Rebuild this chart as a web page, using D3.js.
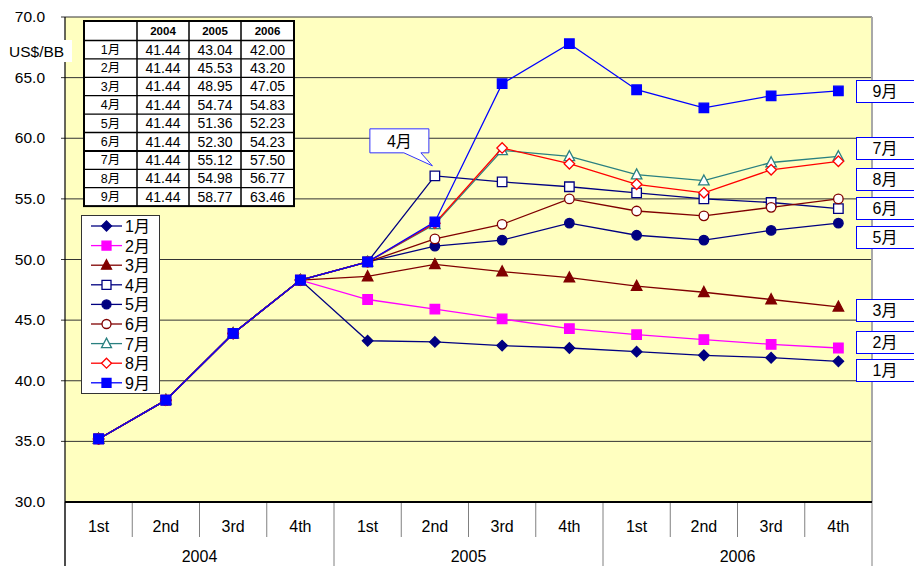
<!DOCTYPE html>
<html>
<head>
<meta charset="utf-8">
<script src="https://cdn.jsdelivr.net/npm/d3@7"></script>
<style>
body { margin: 0; background: #fff; }
svg { display: block; font-family: Arial, "Liberation Sans", "Noto Sans CJK JP", sans-serif; }
</style>
</head>
<body>
<div id="chart"></div>
<script>
// categories
var quarters = ['1st', '2nd', '3rd', '4th', '1st', '2nd', '3rd', '4th', '1st', '2nd', '3rd', '4th'];
var years = ['2004', '2005', '2006'];
var months = ['1月', '2月', '3月', '4月', '5月', '6月', '7月', '8月', '9月'];
var yTicks = [30, 35, 40, 45, 50, 55, 60, 65, 70];

// series values, one per quarter
var s1 = [35.2, 38.4, 43.9, 48.3, 43.3, 43.2, 42.9, 42.7, 42.4, 42.1, 41.9, 41.6];
var s2 = [35.2, 38.4, 43.9, 48.3, 46.7, 45.9, 45.1, 44.3, 43.8, 43.4, 43.0, 42.7];
var s3 = [35.2, 38.4, 43.9, 48.3, 48.6, 49.6, 49.0, 48.5, 47.8, 47.3, 46.7, 46.1];
var s4 = [35.2, 38.4, 43.9, 48.3, 49.8, 56.9, 56.4, 56.0, 55.5, 55.0, 54.7, 54.2];
var s5 = [35.2, 38.4, 43.9, 48.3, 49.8, 51.1, 51.6, 53.0, 52.0, 51.6, 52.4, 53.0];
var s6 = [35.2, 38.4, 43.9, 48.3, 49.8, 51.7, 52.9, 55.0, 54.0, 53.6, 54.3, 55.0];
var s7 = [35.2, 38.4, 43.9, 48.3, 49.8, 52.9, 59.0, 58.5, 57.0, 56.5, 58.0, 58.5];
var s8 = [35.2, 38.4, 43.9, 48.3, 49.8, 53.0, 59.2, 57.9, 56.2, 55.5, 57.4, 58.1];
var s9 = [35.2, 38.4, 43.9, 48.3, 49.8, 53.1, 64.5, 67.8, 64.0, 62.5, 63.5, 63.9];
var seriesValues = [s1, s2, s3, s4, s5, s6, s7, s8, s9];

// table values
var t2004 = ['41.44', '41.44', '41.44', '41.44', '41.44', '41.44', '41.44', '41.44', '41.44'];
var t2005 = ['43.04', '45.53', '48.95', '54.74', '51.36', '52.30', '55.12', '54.98', '58.77'];
var t2006 = ['42.00', '43.20', '47.05', '54.83', '52.23', '54.23', '57.50', '56.77', '63.46'];

// marker styles
var styles = [
    {shape: 'diamond', color: '#000080', fill: '#000080'},
    {shape: 'square', color: '#ff00ff', fill: '#ff00ff'},
    {shape: 'triangle', color: '#800000', fill: '#800000'},
    {shape: 'square', color: '#000080', fill: '#ffffff'},
    {shape: 'circle', color: '#000080', fill: '#000080'},
    {shape: 'circle', color: '#800000', fill: '#ffffff'},
    {shape: 'triangle', color: '#2a8080', fill: '#ffffff'},
    {shape: 'diamond', color: '#ff0000', fill: '#ffffff'},
    {shape: 'square', color: '#0000ff', fill: '#0000ff'}
];

// right-hand label boxes (top edge in px), index into months
var rightLabels = [
    {i: 8, top: 80}, {i: 6, top: 137}, {i: 7, top: 168}, {i: 5, top: 197},
    {i: 4, top: 226}, {i: 2, top: 299}, {i: 1, top: 331}, {i: 0, top: 359}
];

var W = 914, H = 566;
var m = {l: 65, r: 872, t: 17, b: 502};

var svg = d3.select("#chart").append("svg")
    .attr("width", W)
    .attr("height", H);

var x = d3.scaleBand()
    .domain(d3.range(12))
    .range([m.l, m.r]);

var y = d3.scaleLinear()
    .domain([30, 70])
    .range([m.b, m.t]);

function cx(i) { return x(i) + x.bandwidth() / 2; }

// plot background
svg.append("rect")
    .attr("x", m.l).attr("y", m.t)
    .attr("width", m.r - m.l).attr("height", m.b - m.t)
    .attr("fill", "#ffffc0");

// gridlines
svg.append("g").selectAll("line")
    .data(yTicks.filter(d => d > 30))
    .enter().append("line")
    .attr("x1", m.l - 4).attr("x2", m.r)
    .attr("y1", d => y(d)).attr("y2", d => y(d))
    .attr("stroke", "#333")
    .attr("stroke-width", 1);

// right border
svg.append("line")
    .attr("x1", m.r).attr("x2", m.r)
    .attr("y1", m.t).attr("y2", m.b)
    .attr("stroke", "#a8a8a8").attr("stroke-width", 2);

// y tick labels
svg.append("g").selectAll("text")
    .data(yTicks)
    .enter().append("text")
    .attr("x", 45)
    .attr("y", d => y(d) + 5)
    .attr("text-anchor", "end")
    .attr("font-size", "15.5px")
    .attr("fill", "#000")
    .text(d => d.toFixed(1));

// category axis
var axisG = svg.append("g");
d3.range(13).forEach(function(i) {
    var xx = i < 12 ? x(i) : m.r;
    var yearEdge = (i % 4 === 0);
    axisG.append("line")
        .attr("x1", xx).attr("x2", xx)
        .attr("y1", m.b).attr("y2", yearEdge ? H : 537)
        .attr("stroke", "#808080").attr("stroke-width", 1);
});
axisG.selectAll("text.q")
    .data(quarters)
    .enter().append("text")
    .attr("class", "q")
    .attr("x", (d, i) => cx(i))
    .attr("y", 532)
    .attr("text-anchor", "middle")
    .attr("font-size", "16px")
    .text(d => d);
axisG.selectAll("text.yr")
    .data(years)
    .enter().append("text")
    .attr("class", "yr")
    .attr("x", (d, i) => (x(i * 4) + (i < 2 ? x(i * 4 + 4) : m.r)) / 2)
    .attr("y", 562)
    .attr("text-anchor", "middle")
    .attr("font-size", "16px")
    .text(d => d);

// axis lines
svg.append("line")
    .attr("x1", m.l).attr("x2", m.r)
    .attr("y1", m.b).attr("y2", m.b)
    .attr("stroke", "#000").attr("stroke-width", 2);
svg.append("line")
    .attr("x1", m.l).attr("x2", m.l)
    .attr("y1", m.t).attr("y2", H)
    .attr("stroke", "#000").attr("stroke-width", 1.2);

// unit label
svg.append("rect")
    .attr("x", 0).attr("y", 40).attr("width", 72).attr("height", 22)
    .attr("fill", "#fff");
svg.append("text")
    .attr("x", 9).attr("y", 57)
    .attr("font-size", "15.5px")
    .text("US$/BB");

function marker(g, st, px, py, s) {
    var h = s / 2;
    if (st.shape === 'circle') {
        g.append("circle").attr("cx", px).attr("cy", py).attr("r", h)
            .attr("fill", st.fill).attr("stroke", st.color).attr("stroke-width", 1.3);
    } else {
        var p;
        if (st.shape === 'square') {
            p = [[px - h, py - h], [px + h, py - h], [px + h, py + h], [px - h, py + h]];
        } else if (st.shape === 'diamond') {
            p = [[px, py - h - 0.5], [px + h + 0.5, py], [px, py + h + 0.5], [px - h - 0.5, py]];
        } else {
            p = [[px, py - h - 1], [px + h + 0.5, py + h - 0.5], [px - h - 0.5, py + h - 0.5]];
        }
        g.append("path").attr("d", "M" + p.join("L") + "Z")
            .attr("fill", st.fill).attr("stroke", st.color).attr("stroke-width", 1.3);
    }
}

// series
var line = d3.line()
    .x((d, i) => cx(i))
    .y(d => y(d));

seriesValues.forEach(function(vals, k) {
    var st = styles[k];
    var g = svg.append("g");
    g.append("path")
        .attr("d", line(vals))
        .attr("fill", "none")
        .attr("stroke", st.color)
        .attr("stroke-width", 1.3);
    vals.forEach(function(v, i) {
        marker(g, st, cx(i), y(v), 9.5);
    });
});

// right label boxes
rightLabels.forEach(function(d) {
    svg.append("rect")
        .attr("x", 856.5).attr("y", d.top + 0.5)
        .attr("width", 62).attr("height", 22)
        .attr("fill", "#fff").attr("stroke", "#0000ff").attr("stroke-width", 1);
    svg.append("text")
        .attr("x", 885).attr("y", d.top + 17)
        .attr("text-anchor", "middle")
        .attr("font-size", "16px")
        .text(months[d.i]);
});

// callout for 4月
var px4 = cx(5), py4 = y(s4[5]);
var bx1 = px4 - 65, bx2 = px4 - 6, by1 = py4 - 47, by2 = py4 - 23;
svg.append("path")
    .attr("d", "M" + bx1 + "," + by1 + "H" + bx2 + "V" + by2 + "H" + (bx2 - 8) +
        "L" + (px4 - 2.5) + "," + (py4 - 10) + "L" + (px4 - 31) + "," + by2 + "H" + bx1 + "Z")
    .attr("fill", "#fff").attr("stroke", "#3333ff").attr("stroke-width", 1);
svg.append("text")
    .attr("x", (bx1 + bx2) / 2).attr("y", by2 - 6)
    .attr("text-anchor", "middle")
    .attr("font-size", "16px")
    .text("4月");

// data table
var tb = {x: 84, y: 21, w: 210, hh: 19.5, rh: 18.4};
var colX = [84, 137, 189, 241, 294];
var tg = svg.append("g");
var tH = tb.hh + tb.rh * 9;
tg.append("rect")
    .attr("x", tb.x).attr("y", tb.y).attr("width", tb.w).attr("height", tH)
    .attr("fill", "#fff");
for (var r = 1; r <= 9; r++) {
    var ly = tb.y + tb.hh + tb.rh * (r - 1);
    tg.append("line")
        .attr("x1", tb.x).attr("x2", tb.x + tb.w)
        .attr("y1", ly).attr("y2", ly)
        .attr("stroke", "#000").attr("stroke-width", r === 7 ? 2 : 1.3);
}
colX.slice(1, 4).forEach(function(c) {
    tg.append("line")
        .attr("x1", c).attr("x2", c)
        .attr("y1", tb.y).attr("y2", tb.y + tH)
        .attr("stroke", "#000").attr("stroke-width", 1.5);
});
tg.append("rect")
    .attr("x", tb.x).attr("y", tb.y).attr("width", tb.w).attr("height", tH)
    .attr("fill", "none").attr("stroke", "#000").attr("stroke-width", 2);
years.forEach(function(yr, j) {
    tg.append("text")
        .attr("x", (colX[j + 1] + colX[j + 2]) / 2)
        .attr("y", tb.y + 14)
        .attr("text-anchor", "middle")
        .attr("font-size", "11.5px")
        .attr("font-weight", "bold")
        .text(yr);
});
var tcols = [t2004, t2005, t2006];
months.forEach(function(mo, r) {
    var ty = tb.y + tb.hh + tb.rh * r + 14;
    tg.append("text")
        .attr("x", (colX[0] + colX[1]) / 2).attr("y", ty - 0.5)
        .attr("text-anchor", "middle")
        .attr("font-size", "12.5px")
        .text(mo);
    tcols.forEach(function(col, j) {
        tg.append("text")
            .attr("x", (colX[j + 1] + colX[j + 2]) / 2).attr("y", ty)
            .attr("text-anchor", "middle")
            .attr("font-size", "14px")
            .text(col[r]);
    });
});

// legend
var lg = svg.append("g");
lg.append("rect")
    .attr("x", 81.5).attr("y", 215.5).attr("width", 78).attr("height", 178)
    .attr("fill", "#fff").attr("stroke", "#333").attr("stroke-width", 1);
months.forEach(function(mo, k) {
    var ly = 226 + k * 19.6;
    lg.append("line")
        .attr("x1", 91).attr("x2", 122)
        .attr("y1", ly).attr("y2", ly)
        .attr("stroke", styles[k].color).attr("stroke-width", 1.3);
    marker(lg, styles[k], 106.5, ly, 9);
    lg.append("text")
        .attr("x", 125).attr("y", ly + 6)
        .attr("font-size", "16px")
        .text(mo);
});
</script>
</body>
</html>
